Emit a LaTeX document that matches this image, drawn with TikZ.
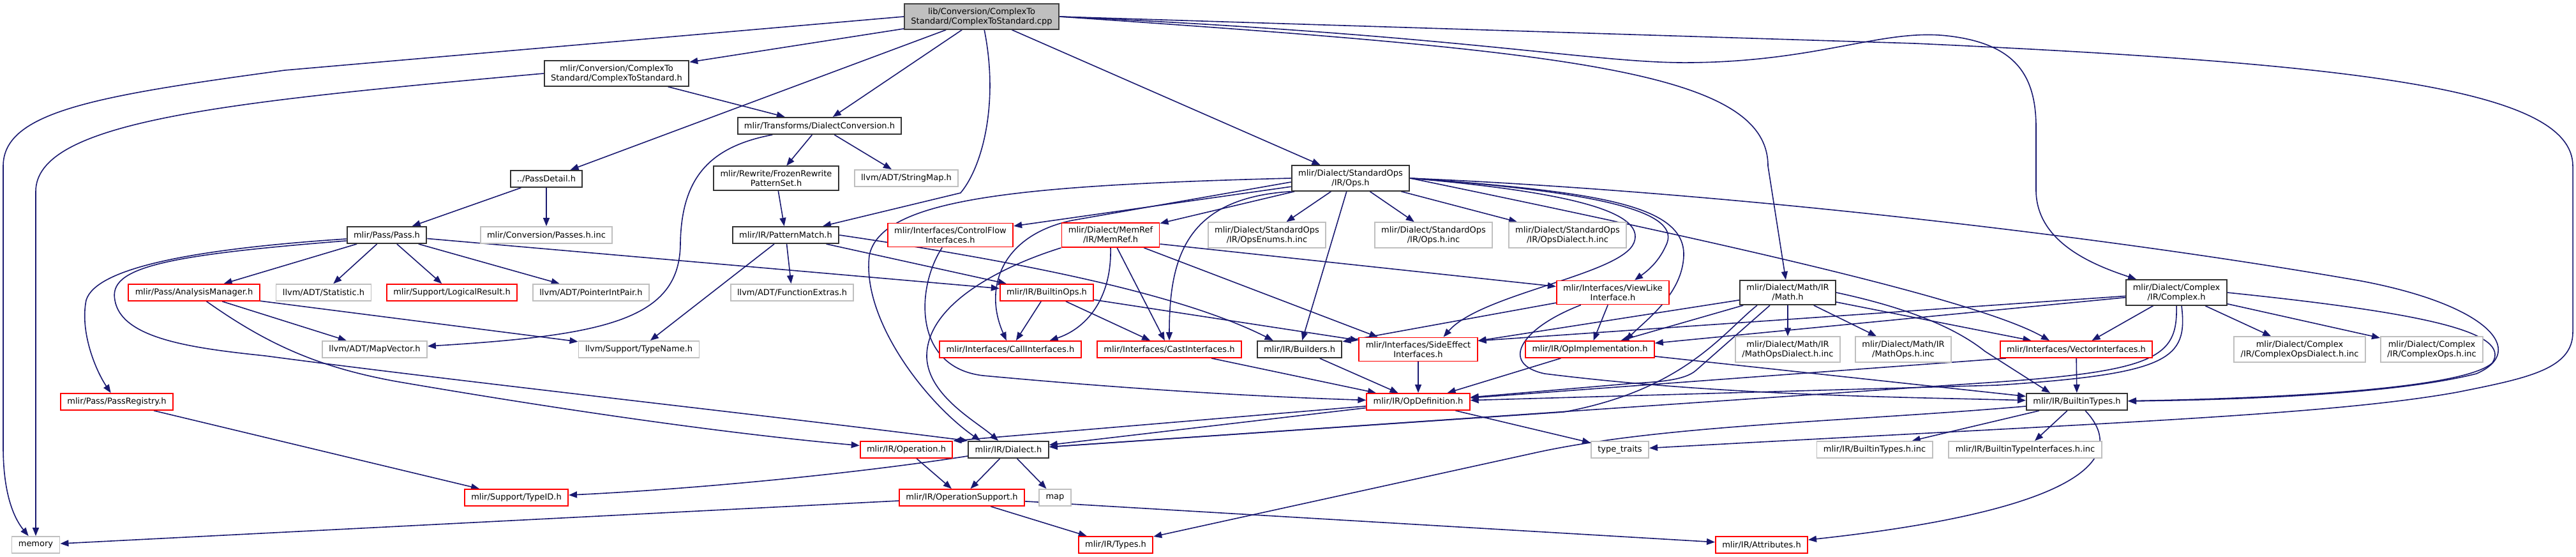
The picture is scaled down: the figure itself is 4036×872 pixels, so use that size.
\documentclass[tikz,border=0pt]{standalone}
\usepackage{fontspec}
\setmainfont{DejaVu Sans}
\usetikzlibrary{arrows.meta,positioning}
\definecolor{edgeblue}{RGB}{25,25,112}
\definecolor{boxgray}{RGB}{191,191,191}
\definecolor{boxred}{RGB}{255,0,0}
\pgfdeclarelayer{bg}
\pgfsetlayers{bg,main}

\begin{document}
\begin{tikzpicture}[x=0.5pt,y=-0.5pt,
every node/.style={rectangle,fill=white,align=center,font=\fontsize{6.5}{7.5}\selectfont,
  inner xsep=5.2pt,inner ysep=3pt,minimum height=13pt},
root/.style={draw=black!75,fill=boxgray,line width=1pt},
doc/.style={draw=black!80,line width=1pt},
trunc/.style={draw=boxred,line width=0.9pt},
ext/.style={draw=boxgray,line width=0.9pt},
inc/.style={draw=edgeblue,line width=0.8pt,-{Triangle[length=6.5pt,width=5pt]}}]
\useasboundingbox (0,0) rectangle (4036,872);

\node[root] (cpp) at (1538,26) {lib/Conversion/ComplexTo\\Standard/ComplexToStandard.cpp};
\node[doc] (ctsh) at (966,115) {mlir/Conversion/ComplexTo\\Standard/ComplexToStandard.h};
\node[doc] (dconv) at (1284,197) {mlir/Transforms/DialectConversion.h};
\node[doc] (frozen) at (1216,279) {mlir/Rewrite/FrozenRewrite\\PatternSet.h};
\node[ext] (strmap) at (1420,279) {llvm/ADT/StringMap.h};
\node[doc] (pdetail) at (856,280) {../PassDetail.h};
\node[doc] (stdops) at (2116,279) {mlir/Dialect/StandardOps\\/IR/Ops.h};
\node[doc] (pass) at (606,368) {mlir/Pass/Pass.h};
\node[ext] (passinc) at (856,368) {mlir/Conversion/Passes.h.inc};
\node[doc] (patmatch) at (1231,368) {mlir/IR/PatternMatch.h};
\node[trunc] (ctrlflow) at (1489,368) {mlir/Interfaces/ControlFlow\\Interfaces.h};
\node[trunc] (memref) at (1740,368) {mlir/Dialect/MemRef\\/IR/MemRef.h};
\node[ext] (opsenums) at (1985,368) {mlir/Dialect/StandardOps\\/IR/OpsEnums.h.inc};
\node[ext] (opsinc) at (2246,368) {mlir/Dialect/StandardOps\\/IR/Ops.h.inc};
\node[ext] (opsdinc) at (2456,368) {mlir/Dialect/StandardOps\\/IR/OpsDialect.h.inc};
\node[trunc] (analysis) at (304,458) {mlir/Pass/AnalysisManager.h};
\node[ext] (statistic) at (507,458) {llvm/ADT/Statistic.h};
\node[trunc] (logres) at (708,458) {mlir/Support/LogicalResult.h};
\node[ext] (ptrint) at (926,458) {llvm/ADT/PointerIntPair.h};
\node[ext] (funcext) at (1241,458) {llvm/ADT/FunctionExtras.h};
\node[trunc] (bops) at (1640,458) {mlir/IR/BuiltinOps.h};
\node[trunc] (viewlike) at (2527,458) {mlir/Interfaces/ViewLike\\Interface.h};
\node[doc] (math) at (2801,458) {mlir/Dialect/Math/IR\\/Math.h};
\node[doc] (complex) at (3410,458) {mlir/Dialect/Complex\\/IR/Complex.h};
\node[ext] (mapvec) at (587,547) {llvm/ADT/MapVector.h};
\node[ext] (typename) at (1001,547) {llvm/Support/TypeName.h};
\node[trunc] (callif) at (1583,547) {mlir/Interfaces/CallInterfaces.h};
\node[trunc] (castif) at (1832,547) {mlir/Interfaces/CastInterfaces.h};
\node[doc] (builders) at (2036,547) {mlir/IR/Builders.h};
\node[trunc] (sideeff) at (2222,547) {mlir/Interfaces/SideEffect\\Interfaces.h};
\node[trunc] (opimpl) at (2491,547) {mlir/IR/OpImplementation.h};
\node[ext] (mdinc) at (2801,547) {mlir/Dialect/Math/IR\\/MathOpsDialect.h.inc};
\node[ext] (moinc) at (2982,547) {mlir/Dialect/Math/IR\\/MathOps.h.inc};
\node[trunc] (vecif) at (3253,547) {mlir/Interfaces/VectorInterfaces.h};
\node[ext] (cdinc) at (3603,547) {mlir/Dialect/Complex\\/IR/ComplexOpsDialect.h.inc};
\node[ext] (coinc) at (3810,547) {mlir/Dialect/Complex\\/IR/ComplexOps.h.inc};
\node[trunc] (passreg) at (183,629) {mlir/Pass/PassRegistry.h};
\node[trunc] (opdef) at (2222,629) {mlir/IR/OpDefinition.h};
\node[doc] (btypes) at (3254,629) {mlir/IR/BuiltinTypes.h};
\node[trunc] (operation) at (1420,704) {mlir/IR/Operation.h};
\node[doc] (dialect) at (1580,704) {mlir/IR/Dialect.h};
\node[ext] (ttraits) at (2538,704) {type\_traits};
\node[ext] (btinc) at (2937,704) {mlir/IR/BuiltinTypes.h.inc};
\node[ext] (btiinc) at (3173,704) {mlir/IR/BuiltinTypeInterfaces.h.inc};
\node[trunc] (typeid) at (809,779) {mlir/Support/TypeID.h};
\node[trunc] (opsupp) at (1507,779) {mlir/IR/OperationSupport.h};
\node[ext] (map) at (1653,779) {map};
\node[ext] (memory) at (56,853) {memory};
\node[trunc] (types) at (1748,853) {mlir/IR/Types.h};
\node[trunc] (attrs) at (2760,853) {mlir/IR/Attributes.h};

\begin{pgfonlayer}{bg}
\draw[inc] (cpp.west) -- (446,110) .. controls (150,150) and (5,175) .. (5,260) -- (5,700) .. controls (5,780) and (25,815) .. (memory);
\draw[inc] (cpp) -- (ctsh);
\draw[inc] (cpp) -- (pdetail);
\draw[inc] (cpp) -- (dconv);
\draw[inc] (cpp) .. controls (1565,160) and (1540,260) .. (1505,302) -- (patmatch);
\draw[inc] (cpp) -- (stdops);
\draw[inc] (cpp.east) .. controls (2450,80) and (2770,110) .. (2770,260) -- (math);
\draw[inc] (cpp.east) .. controls (2300,55) and (2500,100) .. (2650,98) .. controls (2850,96) and (2950,45) .. (3050,56) .. controls (3160,68) and (3190,120) .. (3190,200) -- (3190,300) .. controls (3192,380) and (3280,415) .. (complex);
\draw[inc] (cpp.east) -- (3000,68) .. controls (3700,100) and (4031,140) .. (4031,260) -- (4031,520) .. controls (4031,578) and (3960,592) .. (3850,614) .. controls (3650,650) and (3300,662) .. (ttraits);
\draw[inc] (ctsh.west) .. controls (350,160) and (56,190) .. (56,300) -- (memory);
\draw[inc] (ctsh) -- (dconv);
\draw[inc] (dconv) -- (frozen);
\draw[inc] (dconv) -- (strmap);
\draw[inc] (dconv) .. controls (1110,230) and (1068,280) .. (1066,380) .. controls (1066,500) and (950,525) .. (mapvec);
\draw[inc] (frozen) -- (patmatch);
\draw[inc] (pdetail) -- (pass);
\draw[inc] (pdetail) -- (passinc);
\draw[inc] (pass) -- (analysis);
\draw[inc] (pass) -- (statistic);
\draw[inc] (pass) -- (logres);
\draw[inc] (pass) -- (ptrint);
\draw[inc] (pass) -- (bops);
\draw[inc] ([yshift=-3pt]pass.west) .. controls (300,390) and (150,420) .. (135,470) .. controls (125,520) and (150,580) .. (passreg);
\draw[inc] ([yshift=-4.5pt]pass.west) .. controls (250,400) and (170,420) .. (180,470) .. controls (190,530) and (300,545) .. (415,557) .. controls (700,595) and (1200,650) .. (dialect.north west);
\draw[inc] (analysis) -- (mapvec);
\draw[inc] (analysis) -- (typename);
\draw[inc] (analysis) .. controls (420,540) and (500,575) .. (620,597) .. controls (900,645) and (1150,680) .. (operation);
\draw[inc] (patmatch) -- (bops);
\draw[inc] (patmatch) -- (funcext);
\draw[inc] (patmatch) -- (typename);
\draw[inc] (patmatch.east) .. controls (1600,410) and (1850,460) .. ([xshift=13pt]builders.north west);
\draw[inc] (ctrlflow) .. controls (1435,450) and (1430,575) .. (1540,588) .. controls (1800,612) and (2000,622) .. (opdef);
\draw[inc] (memref.south) .. controls (1742,470) and (1700,515) .. ([xshift=-25pt]callif.north east);
\draw[inc] (memref) -- (castif);
\draw[inc] (memref) -- ([xshift=15pt]sideeff.north west);
\draw[inc] ([yshift=-7pt]memref.east) -- (viewlike);
\draw[inc] (memref.south west) .. controls (1560,420) and (1450,480) .. (1452,560) .. controls (1455,620) and (1530,660) .. (dialect);
\draw[inc] (stdops) -- (ctrlflow);
\draw[inc] (stdops) -- (memref);
\draw[inc] (stdops) -- (opsenums);
\draw[inc] (stdops) -- (opsinc);
\draw[inc] (stdops) -- (opsdinc);
\draw[inc] (stdops) -- (builders);
\draw[inc] ([yshift=-3pt]stdops.west) -- (1680,345) .. controls (1570,368) and (1540,450) .. (callif);
\draw[inc] (stdops.south west) .. controls (1860,310) and (1832,400) .. (castif);
\draw[inc] (stdops.west) .. controls (1600,290) and (1380,310) .. (1362,400) .. controls (1350,500) and (1450,630) .. ([xshift=-22pt]dialect.north);
\draw[inc] (stdops.east) .. controls (2450,300) and (2580,330) .. (2560,380) .. controls (2540,430) and (2320,460) .. ([xshift=-27pt]sideeff.north east);
\draw[inc] (stdops.east) .. controls (2500,300) and (2630,330) .. (2612,380) .. controls (2600,410) and (2580,425) .. ([xshift=17pt]viewlike.north);
\draw[inc] (stdops.east) .. controls (2500,300) and (2640,320) .. (2638,400) .. controls (2636,460) and (2580,500) .. ([xshift=28pt]opimpl.north);
\draw[inc] (stdops.east) .. controls (2700,380) and (3100,470) .. ([xshift=-21pt]vecif.north);
\draw[inc] (stdops.east) .. controls (2700,300) and (3300,370) .. (3700,440) .. controls (3900,478) and (3960,550) .. (3880,585) .. controls (3750,618) and (3500,626) .. (btypes);
\draw[inc] (complex.east) .. controls (3800,490) and (3935,520) .. (3905,568) .. controls (3860,610) and (3550,624) .. (btypes);
\draw[inc] (complex) -- (vecif);
\draw[inc] (complex) -- (cdinc);
\draw[inc] (complex) -- (coinc);
\draw[inc] (complex) -- ([yshift=-3pt]sideeff.north east);
\draw[inc] (complex) -- (opimpl);
\draw[inc] (complex.south) .. controls (3412,560) and (3380,582) .. (3100,600) -- (dialect);
\draw[inc] ([xshift=4pt]complex.south) .. controls (3428,562) and (3400,585) .. (3130,603) -- (opdef);
\draw[inc] (math) -- ([yshift=-3pt]sideeff.north east);
\draw[inc] (math) -- (opimpl);
\draw[inc] (math) -- (mdinc);
\draw[inc] (math) -- (moinc);
\draw[inc] ([xshift=-14pt]math.south) -- (2657,580) .. controls (2640,595) and (2600,598) .. (2560,600) -- (opdef);
\draw[inc] ([xshift=-24pt]math.south) .. controls (2700,520) and (2640,610) .. (2450,645) -- (dialect);
\draw[inc] (math) -- (vecif);
\draw[inc] (math.east) .. controls (2980,480) and (3060,510) .. (3110,550) -- ([xshift=-21pt]btypes.north);
\draw[inc] (vecif) -- (btypes);
\draw[inc] ([xshift=5pt]vecif.south west) -- (opdef);
\draw[inc] (btypes) .. controls (2900,660) and (2600,665) .. (2400,710) -- (types);
\draw[inc] (btypes) .. controls (3340,720) and (3250,800) .. (attrs);
\draw[inc] (btypes) -- (btinc);
\draw[inc] (btypes) -- (btiinc);
\draw[inc] (viewlike) -- (builders);
\draw[inc] (viewlike) -- (opimpl);
\draw[inc] (viewlike) .. controls (2380,515) and (2350,570) .. (2420,585) .. controls (2700,620) and (3000,622) .. (btypes);
\draw[inc] (opimpl) -- (opdef);
\draw[inc] (opimpl) -- (btypes);
\draw[inc] (sideeff) -- (opdef);
\draw[inc] (builders) -- (opdef);
\draw[inc] (castif) -- (opdef);
\draw[inc] (bops) -- (callif);
\draw[inc] (bops) -- (castif);
\draw[inc] (bops) -- (sideeff);
\draw[inc] (opdef) -- (ttraits);
\draw[inc] (opdef) -- (operation.north east);
\draw[inc] (opdef) -- (dialect);
\draw[inc] (operation) -- (opsupp);
\draw[inc] (dialect) -- (opsupp);
\draw[inc] (dialect) -- (map);
\draw[inc] (dialect) .. controls (1350,740) and (1100,765) .. (typeid);
\draw[inc] (opsupp) -- (memory);
\draw[inc] (opsupp) -- (types);
\draw[inc] (opsupp) -- (attrs);
\draw[inc] (passreg) -- (typeid);
\end{pgfonlayer}
\end{tikzpicture}
\end{document}
